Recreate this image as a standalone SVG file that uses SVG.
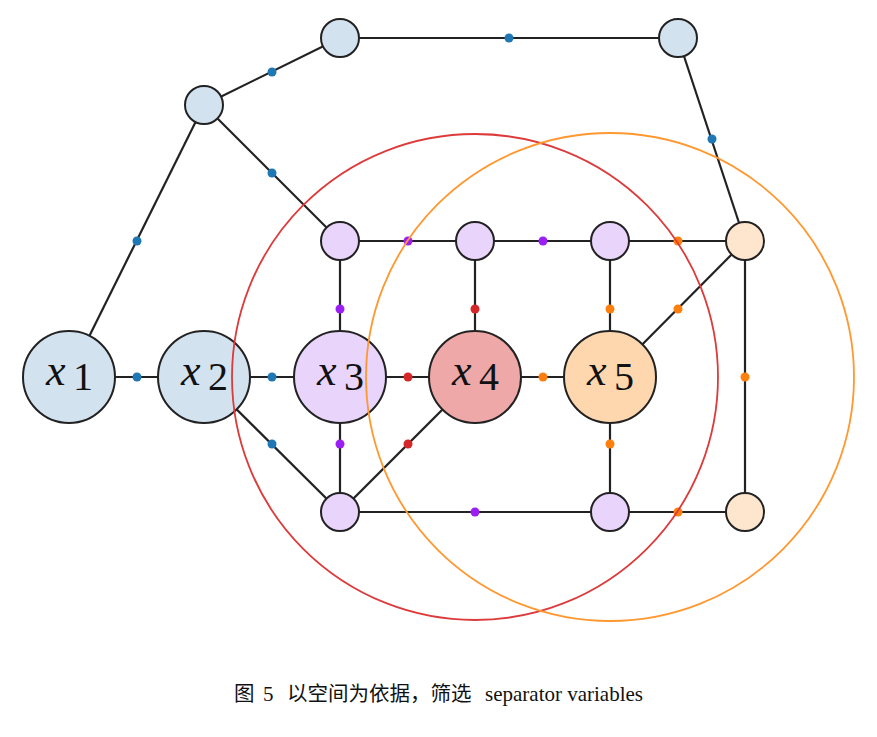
<svg xmlns="http://www.w3.org/2000/svg" width="877" height="737" viewBox="0 0 877 737">
<style>
.e{stroke:#222;stroke-width:2.2;fill:none}
.n{stroke:#222;stroke-width:2}
.b{fill:#d3e2ef}.p{fill:#e9d4fc}.r{fill:#eea8a8}.o{fill:#ffd7ae}.q{fill:#fee5cd}
.db{fill:#1f77b4}.dp{fill:#9b1ff5}.dr{fill:#d62728}.do{fill:#ff7f0e}
.mx{font-family:"Liberation Serif",serif;font-style:italic;font-size:44px;fill:#111}
.md{font-family:"Liberation Serif",serif;font-size:40px;fill:#111}
.cap{fill:#111}
.cj{font-family:"Noto Sans CJK SC",sans-serif;font-size:20.5px}
.se{font-family:"Liberation Serif","Times New Roman",serif;font-size:21px}
</style>
<rect width="877" height="737" fill="#fff"/>
<g id="connectors">
<line class="e" x1="69" y1="377" x2="204" y2="377"/>
<line class="e" x1="69" y1="377" x2="204" y2="105"/>
<line class="e" x1="204" y1="105" x2="340" y2="38"/>
<line class="e" x1="340" y1="38" x2="678" y2="38"/>
<line class="e" x1="678" y1="38" x2="745" y2="241"/>
<line class="e" x1="204" y1="105" x2="340" y2="241"/>
<line class="e" x1="204" y1="377" x2="340" y2="377"/>
<line class="e" x1="204" y1="377" x2="340" y2="512"/>
<line class="e" x1="340" y1="241" x2="745" y2="241"/>
<line class="e" x1="340" y1="241" x2="340" y2="512"/>
<line class="e" x1="475" y1="241" x2="475" y2="377"/>
<line class="e" x1="610" y1="241" x2="610" y2="512"/>
<line class="e" x1="745" y1="241" x2="610" y2="377"/>
<line class="e" x1="745" y1="241" x2="745" y2="512"/>
<line class="e" x1="340" y1="377" x2="610" y2="377"/>
<line class="e" x1="475" y1="377" x2="340" y2="512"/>
<line class="e" x1="340" y1="512" x2="745" y2="512"/>
<circle class="db" cx="137" cy="377" r="4.5"/>
<circle class="db" cx="137" cy="241" r="4.5"/>
<circle class="db" cx="272" cy="72" r="4.5"/>
<circle class="db" cx="509" cy="38" r="4.5"/>
<circle class="db" cx="712" cy="139" r="4.5"/>
<circle class="db" cx="272" cy="173" r="4.5"/>
<circle class="db" cx="272" cy="377" r="4.5"/>
<circle class="db" cx="272" cy="444" r="4.5"/>
<circle class="dp" cx="408" cy="241" r="4.5"/>
<circle class="dp" cx="543" cy="241" r="4.5"/>
<circle class="do" cx="678" cy="241" r="4.5"/>
<circle class="dp" cx="340" cy="309" r="4.5"/>
<circle class="dr" cx="475" cy="309" r="4.5"/>
<circle class="do" cx="610" cy="309" r="4.5"/>
<circle class="do" cx="678" cy="309" r="4.5"/>
<circle class="do" cx="745" cy="377" r="4.5"/>
<circle class="dr" cx="408" cy="377" r="4.5"/>
<circle class="do" cx="543" cy="377" r="4.5"/>
<circle class="dp" cx="340" cy="444" r="4.5"/>
<circle class="dr" cx="408" cy="444" r="4.5"/>
<circle class="do" cx="610" cy="444" r="4.5"/>
<circle class="dp" cx="475" cy="512" r="4.5"/>
<circle class="do" cx="678" cy="512" r="4.5"/>
</g>
<g id="n_top1"><circle class="n b" cx="204" cy="105" r="19"/></g>
<g id="n_top2"><circle class="n b" cx="340" cy="38" r="19"/></g>
<g id="n_top3"><circle class="n b" cx="678" cy="38" r="19"/></g>
<g id="n_a1"><circle class="n p" cx="340" cy="241" r="19"/></g>
<g id="n_a2"><circle class="n p" cx="475" cy="241" r="19"/></g>
<g id="n_a3"><circle class="n p" cx="610" cy="241" r="19"/></g>
<g id="n_a4"><circle class="n q" cx="745" cy="241" r="19"/></g>
<g id="n_c1"><circle class="n p" cx="340" cy="512" r="19"/></g>
<g id="n_c3"><circle class="n p" cx="610" cy="512" r="19"/></g>
<g id="n_c4"><circle class="n q" cx="745" cy="512" r="19"/></g>
<g id="x1"><circle class="n b" cx="69" cy="377" r="46"/><text class="mx" x="46" y="385">x</text><text class="md" x="73" y="390">1</text></g>
<g id="x2"><circle class="n b" cx="204" cy="377" r="46"/><text class="mx" x="181" y="385">x</text><text class="md" x="208" y="390">2</text></g>
<g id="x3"><circle class="n p" cx="340" cy="377" r="46"/><text class="mx" x="317" y="385">x</text><text class="md" x="344" y="390">3</text></g>
<g id="x4"><circle class="n r" cx="475" cy="377" r="46"/><text class="mx" x="452" y="385">x</text><text class="md" x="479" y="390">4</text></g>
<g id="x5"><circle class="n o" cx="610" cy="377" r="46"/><text class="mx" x="587" y="385">x</text><text class="md" x="614" y="390">5</text></g>
<g id="regions">
<circle cx="475" cy="377" r="243" fill="none" stroke="#dd3b3b" stroke-width="1.8"/>
<circle cx="610" cy="377" r="244" fill="none" stroke="#ff9830" stroke-width="1.8"/>
</g>
<g id="caption">
<text class="cap cj" x="234" y="701">图</text>
<text class="cap se" x="263" y="701">5</text>
<text class="cap cj" x="287" y="701">以空间为依据，筛选</text>
<text class="cap se" x="485" y="701">separator variables</text>
</g>
</svg>
